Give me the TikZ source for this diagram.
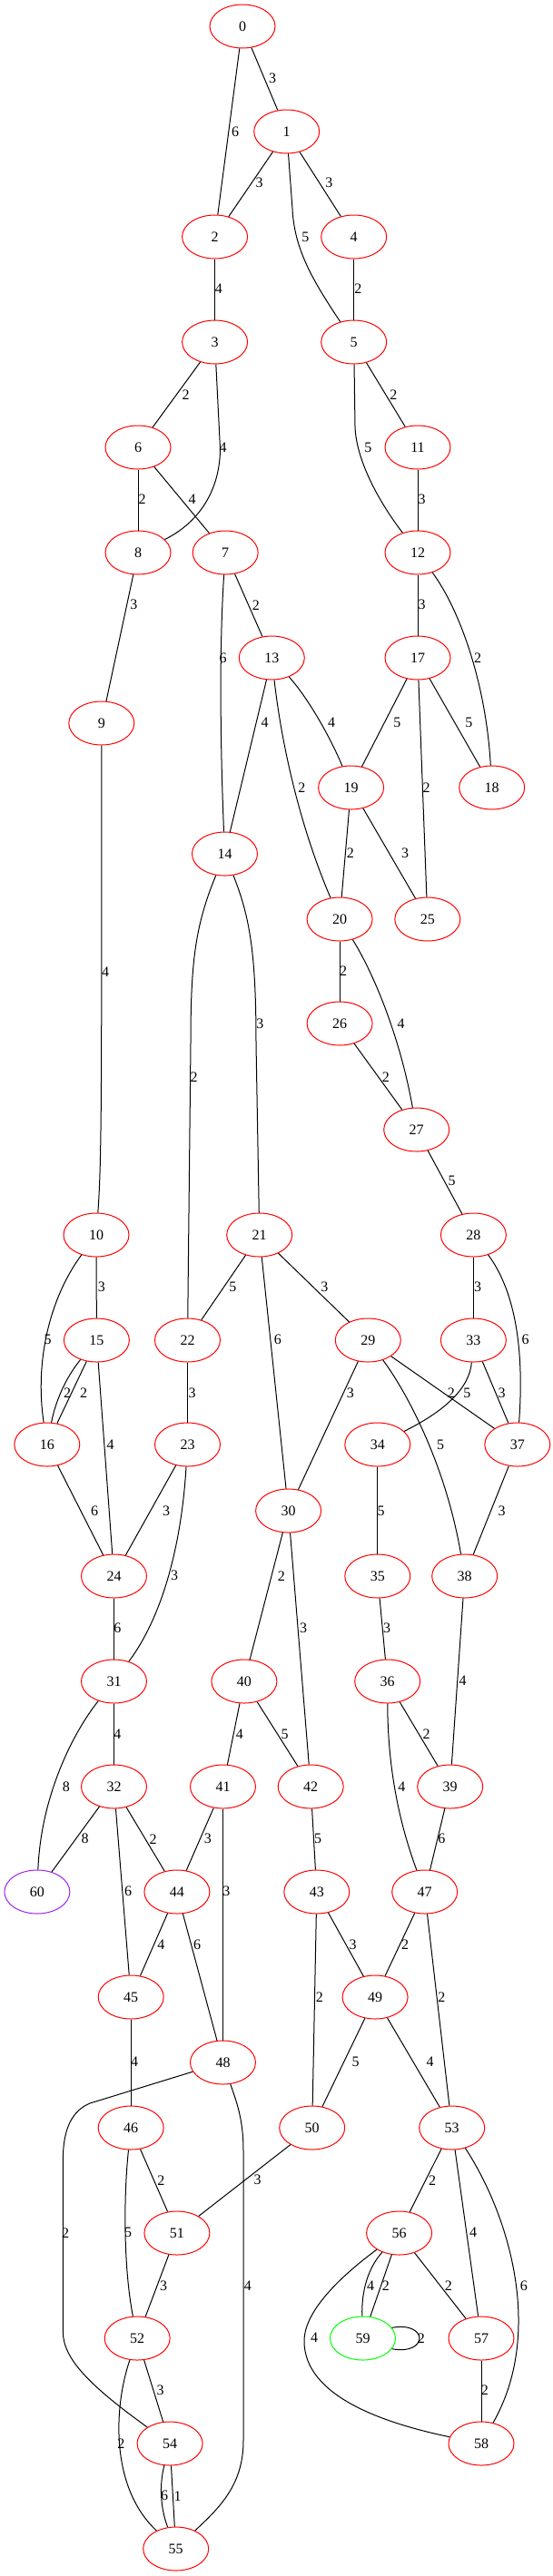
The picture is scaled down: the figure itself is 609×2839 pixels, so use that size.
\documentclass[tikz,border=0pt]{standalone}
\usepackage{fontspec}
\setmainfont{Liberation Serif}
\usetikzlibrary{shapes.geometric}
\definecolor{gvpurple}{HTML}{A020F0}
\definecolor{gvgreen}{HTML}{00FF00}
\tikzset{
  vtx/.style={ellipse, draw=red, line width=0.75pt, minimum width=54pt, minimum height=36pt, inner sep=0pt, font=\fontsize{12}{14}\selectfont},
  lbl/.style={inner sep=0pt, font=\fontsize{12}{14}\selectfont},
  con/.style={draw=black, line width=0.75pt}
}
\begin{document}
\begin{tikzpicture}[x=0.75pt,y=-0.75pt]
\useasboundingbox (0,0) rectangle (609,2839);
% nodes
\node[vtx] (n0) at (267,29) {0};
\node[vtx] (n1) at (315.7,145) {1};
\node[vtx] (n2) at (236.6,261) {2};
\node[vtx] (n4) at (389.7,261) {4};
\node[vtx] (n3) at (236.6,377) {3};
\node[vtx] (n5) at (389.7,377) {5};
\node[vtx] (n6) at (152,493) {6};
\node[vtx] (n11) at (460,493) {11};
\node[vtx] (n8) at (152,609) {8};
\node[vtx] (n7) at (248.2,609) {7};
\node[vtx] (n12) at (460,609) {12};
\node[vtx] (n13) at (299.3,725) {13};
\node[vtx] (n17) at (460,725) {17};
\node[vtx] (n9) at (111.8,797) {9};
\node[vtx] (n19) at (386.6,868) {19};
\node[vtx] (n18) at (541.7,868) {18};
\node[vtx] (n14) at (247.5,941) {14};
\node[vtx] (n20) at (374.1,1013) {20};
\node[vtx] (n25) at (470.8,1013) {25};
\node[vtx] (n26) at (374.1,1128) {26};
\node[vtx] (n27) at (458.7,1245) {27};
\node[vtx] (n10) at (106,1361) {10};
\node[vtx] (n21) at (285.7,1361) {21};
\node[vtx] (n28) at (521.4,1361) {28};
\node[vtx] (n15) at (106.4,1477) {15};
\node[vtx] (n22) at (206.5,1477) {22};
\node[vtx] (n29) at (405.3,1477) {29};
\node[vtx] (n33) at (521.4,1477) {33};
\node[vtx] (n16) at (51.8,1592) {16};
\node[vtx] (n23) at (206.5,1592) {23};
\node[vtx] (n34) at (415.8,1592) {34};
\node[vtx] (n37) at (569.8,1592) {37};
\node[vtx] (n30) at (317.6,1665) {30};
\node[vtx] (n24) at (125.5,1737) {24};
\node[vtx] (n35) at (415.8,1737) {35};
\node[vtx] (n38) at (511.7,1737) {38};
\node[vtx] (n31) at (125.5,1853) {31};
\node[vtx] (n40) at (268.9,1853) {40};
\node[vtx] (n36) at (426.7,1853) {36};
\node[vtx] (n32) at (125.5,1969) {32};
\node[vtx] (n41) at (245.5,1969) {41};
\node[vtx] (n42) at (342.2,1969) {42};
\node[vtx] (n39) at (495.7,1969) {39};
\node[vtx, draw=gvpurple] (n60) at (40.9,2085) {60};
\node[vtx] (n44) at (194.9,2085) {44};
\node[vtx] (n43) at (348.8,2085) {43};
\node[vtx] (n47) at (467.7,2085) {47};
\node[vtx] (n45) at (144.2,2201) {45};
\node[vtx] (n49) at (413.1,2201) {49};
\node[vtx] (n48) at (245.5,2273) {48};
\node[vtx] (n46) at (144.2,2345) {46};
\node[vtx] (n50) at (343.7,2345) {50};
\node[vtx] (n53) at (497.7,2345) {53};
\node[vtx] (n51) at (194.9,2461) {51};
\node[vtx] (n56) at (439.6,2461) {56};
\node[vtx] (n52) at (151.2,2577) {52};
\node[vtx, draw=gvgreen] (n59) at (399.5,2577) {59};
\node[vtx] (n57) at (530,2577) {57};
\node[vtx] (n54) at (187.1,2693) {54};
\node[vtx] (n58) at (530,2693) {58};
\node[vtx] (n55) at (193.7,2809) {55};
% straight connectors
\foreach \a/\b in {n0/n2,n0/n1,n1/n2,n1/n4,n4/n5,n2/n3,n3/n6,n6/n8,n6/n7,n5/n11,n11/n12,n8/n9,n7/n13,n12/n17,n13/n14,n17/n19,n17/n18,n19/n20,n19/n25,n17/n25,n20/n26,n26/n27,n27/n28,n10/n15,n21/n22,n21/n29,n21/n30,n28/n33,n15/n16,n15/n24,n22/n23,n29/n30,n29/n37,n33/n37,n16/n24,n23/n24,n34/n35,n37/n38,n24/n31,n30/n40,n30/n42,n35/n36,n38/n39,n31/n32,n40/n41,n40/n42,n36/n39,n32/n60,n32/n44,n32/n45,n41/n44,n41/n48,n42/n43,n39/n47,n44/n45,n44/n48,n43/n49,n43/n50,n47/n49,n47/n53,n45/n46,n49/n50,n49/n53,n46/n51,n50/n51,n53/n56,n53/n57,n51/n52,n56/n57,n56/n59,n57/n58,n52/n54,n54/n55}
  \draw[con] (\a) -- (\b);
% curved connectors
\draw[con] (n1) -- (322,230) .. controls (324,275) and (345,310) .. (n5);
\draw[con] (n3) -- (242.5,495) .. controls (242,545) and (215,578) .. (n8);
\draw[con] (n5) -- (391,470) .. controls (392,505) and (415,550) .. (n12);
\draw[con] (n7) .. controls (241,720) and (243,830) .. (n14);
\draw[con] (n12) .. controls (505,670) and (535,750) .. (n18);
\draw[con] (n13) .. controls (310,820) and (330,910) .. (n20);
\draw[con] (n13) .. controls (340,770) and (365,815) .. (n19);
\draw[con] (n9) .. controls (112,1200) and (112,1280) .. (n10);
\draw[con] (n14) .. controls (215,1020) and (210,1060) .. (210,1150) -- (n22);
\draw[con] (n14) .. controls (275,1010) and (282,1050) .. (282,1150) -- (n21);
\draw[con] (n20) .. controls (410,1070) and (440,1140) .. (n27);
\draw[con] (n10) .. controls (55,1430) and (38,1500) .. (n16);
\draw[con] (n28) .. controls (565,1420) and (578,1480) .. (n37);
\draw[con] (n15) .. controls (75,1515) and (62,1540) .. (n16);
\draw[con] (n29) .. controls (445,1530) and (490,1610) .. (n38);
\draw[con] (n33) .. controls (517,1530) and (490,1555) .. (n34);
\draw[con] (n23) .. controls (200,1700) and (180,1780) .. (n31);
\draw[con] (n31) .. controls (80,1910) and (45,1980) .. (n60);
\draw[con] (n36) .. controls (427,1950) and (440,2010) .. (n47);
\draw[con] (n48) -- (99,2318) .. controls (80,2326) and (69.4,2345) .. (69.4,2380) -- (69.4,2570) .. controls (69.4,2600) and (100,2630) .. (n54);
\draw[con] (n48) .. controls (260,2315) and (268,2335) .. (268,2370) -- (268,2690) .. controls (268,2740) and (240,2765) .. (n55);
\draw[con] (n46) .. controls (136,2420) and (136,2500) .. (n52);
\draw[con] (n53) .. controls (560,2440) and (600,2570) .. (n58);
\draw[con] (n56) .. controls (405,2500) and (398,2525) .. (n59);
\draw[con] (n56) .. controls (380,2505) and (335,2545) .. (335,2580) .. controls (335,2640) and (420,2670) .. (n58);
\draw[con] (n59.20) .. controls (472,2558) and (472,2596) .. (n59.-20);
\draw[con] (n52) .. controls (126,2650) and (120,2740) .. (n55);
\draw[con] (n54) .. controls (175,2740) and (177,2765) .. (n55);
% edge labels
\node[lbl] (l0-1) at (300,86.7) {3};
\node[lbl] (l0-2) at (259.2,145) {6};
\node[lbl] (l1-2) at (285.7,201.7) {3};
\node[lbl] (l1-4) at (362.4,201.7) {3};
\node[lbl] (l1-5) at (336.3,261) {5};
\node[lbl] (l2-3) at (240.8,318.3) {4};
\node[lbl] (l4-5) at (394.4,318.3) {2};
\node[lbl] (l3-6) at (204.6,435) {2};
\node[lbl] (l5-11) at (433.4,435) {2};
\node[lbl] (l3-8) at (245.5,493.3) {4};
\node[lbl] (l5-12) at (405.3,493.3) {5};
\node[lbl] (l6-8) at (156.7,550) {2};
\node[lbl] (l6-7) at (211.6,550) {4};
\node[lbl] (l11-12) at (464.5,550) {3};
\node[lbl] (l8-9) at (147.3,666.7) {3};
\node[lbl] (l7-13) at (281.8,666.7) {2};
\node[lbl] (l12-17) at (464.5,666.7) {3};
\node[lbl] (l7-14) at (245.5,725) {6};
\node[lbl] (l12-18) at (526.1,725) {2};
\node[lbl] (l13-14) at (291.5,796.7) {4};
\node[lbl] (l13-19) at (365.2,796.7) {4};
\node[lbl] (l17-19) at (437.3,796.7) {5};
\node[lbl] (l17-18) at (516.4,796.7) {5};
\node[lbl] (l13-20) at (332.4,868.3) {2};
\node[lbl] (l17-25) at (469.6,868.3) {2};
\node[lbl] (l19-20) at (385.8,940) {2};
\node[lbl] (l19-25) at (446.2,940) {3};
\node[lbl] (l9-10) at (116.1,1071) {4};
\node[lbl] (l20-26) at (378,1070) {2};
\node[lbl] (l14-21) at (286.4,1128.3) {3};
\node[lbl] (l20-27) at (441.5,1128.3) {4};
\node[lbl] (l14-22) at (213.6,1187.3) {2};
\node[lbl] (l26-27) at (424.8,1187.3) {2};
\node[lbl] (l27-28) at (497.7,1301.7) {5};
\node[lbl] (l10-15) at (111.8,1418.3) {3};
\node[lbl] (l21-22) at (256.4,1418.3) {5};
\node[lbl] (l21-29) at (357.4,1418.3) {3};
\node[lbl] (l28-33) at (526.1,1418.3) {3};
\node[lbl] (l10-16) at (52.6,1476.7) {5};
\node[lbl] (l21-30) at (305.9,1476.7) {6};
\node[lbl] (l28-37) at (578.7,1476.7) {6};
\node[lbl] (l15-16a) at (74,1535) {2};
\node[lbl] (l15-16b) at (92,1535) {2};
\node[lbl] (l22-23) at (211.6,1535) {3};
\node[lbl] (l29-30) at (385.8,1535) {3};
\node[lbl] (l29-37) at (496.9,1535) {2};
\node[lbl] (l33-34) at (514.4,1535) {5};
\node[lbl] (l33-37) at (552.6,1535) {3};
\node[lbl] (l15-24) at (121.6,1592.3) {4};
\node[lbl] (l29-38) at (485.2,1592.3) {5};
\node[lbl] (l16-24) at (104,1665) {6};
\node[lbl] (l23-24) at (183.2,1665) {3};
\node[lbl] (l34-35) at (419.7,1665) {5};
\node[lbl] (l37-38) at (552.6,1665) {3};
\node[lbl] (l23-31) at (192.1,1736.7) {3};
\node[lbl] (l30-40) at (309.8,1736.7) {2};
\node[lbl] (l24-31) at (129.4,1794.3) {6};
\node[lbl] (l30-42) at (334,1794.3) {3};
\node[lbl] (l35-36) at (426,1794.3) {3};
\node[lbl] (l38-39) at (509.7,1852.7) {4};
\node[lbl] (l31-32) at (129.4,1911) {4};
\node[lbl] (l40-41) at (263.8,1911) {4};
\node[lbl] (l40-42) at (313.7,1911) {5};
\node[lbl] (l36-39) at (469.6,1911) {2};
\node[lbl] (l31-60) at (72.9,1969) {8};
\node[lbl] (l36-47) at (442.3,1969) {4};
\node[lbl] (l32-60) at (93.5,2026.7) {8};
\node[lbl] (l32-44) at (168.7,2026.7) {2};
\node[lbl] (l41-44) at (228.8,2026.7) {3};
\node[lbl] (l42-43) at (350,2026.7) {5};
\node[lbl] (l39-47) at (486.4,2026.7) {6};
\node[lbl] (l32-45) at (141.1,2084.3) {6};
\node[lbl] (l41-48) at (249.4,2084.3) {3};
\node[lbl] (l44-45) at (177.3,2143.3) {4};
\node[lbl] (l44-48) at (217.1,2143.3) {6};
\node[lbl] (l43-49) at (388.5,2143.3) {3};
\node[lbl] (l47-49) at (446.2,2143.3) {2};
\node[lbl] (l43-50) at (351.9,2201) {2};
\node[lbl] (l47-53) at (486.4,2201) {2};
\node[lbl] (l45-46) at (148.1,2272.7) {4};
\node[lbl] (l49-50) at (391.7,2272.7) {5};
\node[lbl] (l49-53) at (473.5,2272.7) {4};
\node[lbl] (l46-51) at (177.3,2402.7) {2};
\node[lbl] (l50-51) at (283.7,2402.7) {3};
\node[lbl] (l53-56) at (476.2,2402.7) {2};
\node[lbl] (l48-54) at (72.1,2460.7) {2};
\node[lbl] (l46-52) at (141.1,2460.7) {5};
\node[lbl] (l53-57) at (521,2460.7) {4};
\node[lbl] (l51-52) at (180,2519) {3};
\node[lbl] (l48-55) at (272.8,2519) {4};
\node[lbl] (l56-59a) at (408,2519) {4};
\node[lbl] (l56-59b) at (424.8,2519) {2};
\node[lbl] (l56-57) at (493.8,2519) {2};
\node[lbl] (l53-58) at (576.8,2519) {6};
\node[lbl] (l56-58) at (346.1,2576.7) {4};
\node[lbl] (l59-59) at (463.8,2576.7) {2};
\node[lbl] (l52-54) at (176.5,2634) {3};
\node[lbl] (l57-58) at (533.9,2634) {2};
\node[lbl] (l52-55) at (133.3,2693.3) {2};
\node[lbl] (l54-55a) at (181.2,2750.7) {6};
\node[lbl] (l54-55b) at (195.6,2750.7) {1};
\end{tikzpicture}
\end{document}
